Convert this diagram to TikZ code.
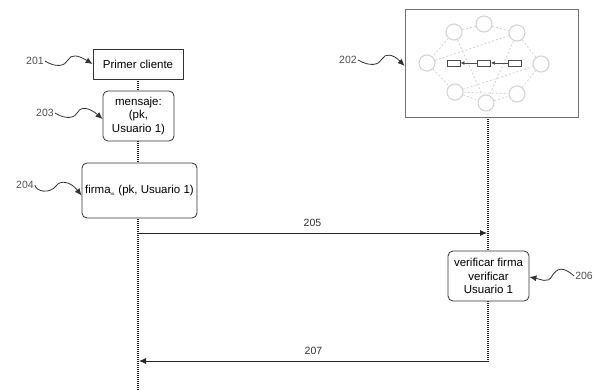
\documentclass[tikz,border=0pt]{standalone}
\usepackage{fontspec}
\setmainfont{Liberation Sans}
\usetikzlibrary{arrows.meta}
\definecolor{labgray}{RGB}{80,80,80}
\definecolor{netgray}{RGB}{212,212,212}
\tikzset{
  box/.style={draw=black!80, line width=0.8pt, fill=white, align=center, font=\fontsize{11.5}{13.5}\selectfont, inner sep=2pt},
  rbox/.style={box, rounded corners=5pt},
  lifeline/.style={draw=black!85, line width=1.6pt, dash pattern=on 1pt off 1pt},
  msg/.style={draw=black!85, line width=0.8pt, -{Latex[length=7pt,width=6pt]}},
  reflab/.style={text=labgray, font=\fontsize{10.5}{12}\selectfont, inner sep=1pt},
  squig/.style={draw=black!80, line width=0.8pt, -{Latex[length=7pt,width=6pt]}},
  netc/.style={circle, draw=netgray, line width=1.1pt, minimum size=16pt, inner sep=0pt, fill=white},
  netl/.style={draw=netgray, line width=0.8pt, dash pattern=on 2pt off 2pt},
  blk/.style={draw=black!70, line width=0.9pt, fill=white, minimum width=13pt, minimum height=6pt, inner sep=0pt},
  msglab/.style={text=black!80, font=\fontsize{10.5}{12}\selectfont}
}
\begin{document}
\begin{tikzpicture}[x=1pt,y=-1pt]
\useasboundingbox (0,0) rectangle (594,390);
% lifelines
\coordinate (l1top) at (138,79);
\coordinate (l1bot) at (138,390);
\coordinate (l2top) at (488,117);
\coordinate (l2bot) at (488,362);
\draw[lifeline] (l1top) -- (l1bot);
\draw[lifeline] (l2top) -- (l2bot);
% client boxes
\node[box, minimum width=90pt, minimum height=30pt] (c1) at (138,64) {Primer cliente};
\node[rbox, minimum width=71pt, minimum height=50pt] (msg) at (138.5,116) {mensaje:\\(pk,\\Usuario 1)};
\node[rbox, minimum width=115pt, minimum height=55pt, inner sep=0pt] (firma) at (139.5,190.5) {firma\textsubscript{\fontsize{4}{4}\selectfont sk} (pk, Usuario 1)};
% server box
\node[draw=black!55, line width=0.8pt, fill=white, minimum width=173pt, minimum height=108pt, inner sep=0pt] (net) at (491.5,63) {};
% network
\node[netc] (n1) at (484,24) {};
\node[netc] (n2) at (454,32) {};
\node[netc] (n3) at (517,33) {};
\node[netc] (n4) at (427,63) {};
\node[netc] (n5) at (541,64) {};
\node[netc] (n6) at (455,92) {};
\node[netc] (n7) at (486,103) {};
\node[netc] (n8) at (517,94) {};
\draw[netl] (n2) -- (n1);
\draw[netl] (n1) -- (n3);
\draw[netl] (n2) -- (n4);
\draw[netl] (n4) -- (n6);
\draw[netl] (n6) -- (n7);
\draw[netl] (n7) -- (n8);
\draw[netl] (n8) -- (n5);
\draw[netl] (n5) -- (n3);
\draw[netl] (n4) -- (n3);
\draw[netl] (n2) -- (n7);
\draw[netl] (n6) -- (n5);
\draw[netl] (n6) -- (n8);
\draw[netl] (n3) -- (n7);
\node[blk] (b1) at (453.5,63) {};
\node[blk] (b2) at (484,63) {};
\node[blk] (b3) at (515,63) {};
\draw[black!70, line width=0.9pt, -{Latex[length=4pt,width=4pt]}] (b3) -- (b2);
\draw[black!70, line width=0.9pt, -{Latex[length=4pt,width=4pt]}] (b2) -- (b1);
% server-side process
\node[rbox, minimum width=81pt, minimum height=50pt] (ver) at (488.5,276) {verificar firma\\verificar\\Usuario 1};
% messages
\coordinate (m1s) at (138,233);
\coordinate (m1e) at (487,233);
\draw[msg] (m1s) -- node[msglab, above=3pt] (t205) {205} (m1e);
\coordinate (m2s) at (488,361);
\coordinate (m2e) at (139,361);
\draw[msg] (m2s) -- node[msglab, above=3pt] (t207) {207} (m2e);
% reference labels
\node[reflab] (r201) at (35,61) {201};
\node[reflab] (r203) at (45,113) {203};
\node[reflab] (r204) at (25,185) {204};
\node[reflab] (r202) at (348,60) {202};
\node[reflab, anchor=east] (r206) at (594,276) {206};
\draw[squig] (r201.east) .. controls (56,68) and (65,66) .. (68,60) .. controls (71,54) and (78,55) .. (c1.west);
\draw[squig] (r203.east) .. controls (66,120) and (75,118) .. (78,112) .. controls (81,106) and (90,108) .. ([yshift=-3pt]msg.west);
\draw[squig] (r204.east) .. controls (36,192) and (50,194) .. (56,186) .. controls (60,180) and (70,181) .. ([yshift=-5pt]firma.west);
\draw[squig] (r202.east) .. controls (370,67) and (379,65) .. (382,59) .. controls (385,53) and (393,54) .. ([yshift=-3pt]net.west);
\draw[squig] (r206.west) .. controls (563,266) and (557,268) .. (552,276) .. controls (548,284) and (540,279) .. ([yshift=-1pt]ver.east);
\end{tikzpicture}
\end{document}
